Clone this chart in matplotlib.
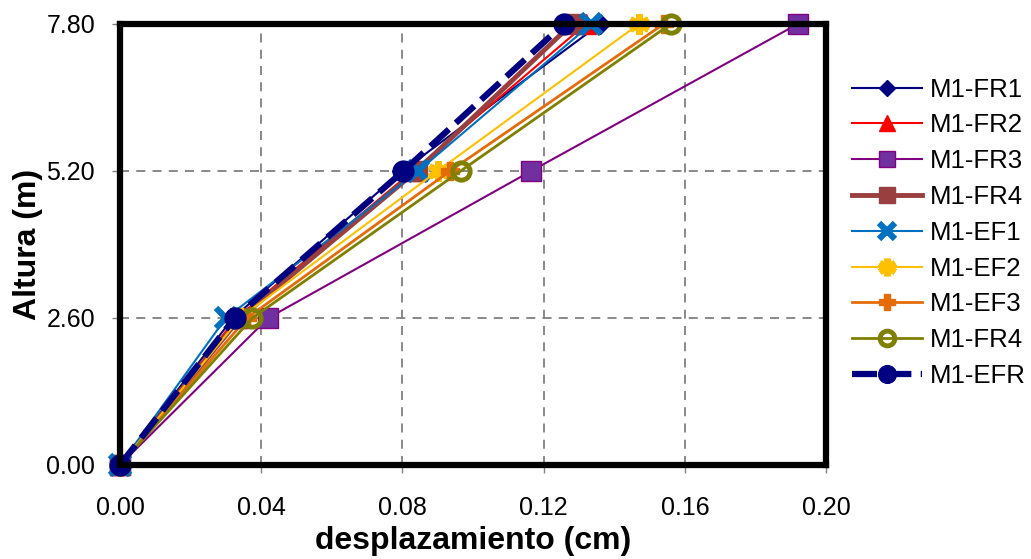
import matplotlib.pyplot as plt

plt.rcParams['font.family'] = ['Liberation Sans', 'DejaVu Sans']

# alturas de piso (m)
alturas = [0.0, 2.6, 5.2, 7.8]

# desplazamientos (cm) por modelo
fr1 = [0.0, 0.032, 0.080, 0.136]
fr2 = [0.0, 0.033, 0.083, 0.132]
fr3 = [0.0, 0.042, 0.1165, 0.192]
fr4 = [0.0, 0.034, 0.084, 0.128]
ef1 = [0.0, 0.030, 0.0845, 0.1335]
ef2 = [0.0, 0.034, 0.090, 0.147]
ef3 = [0.0, 0.036, 0.0935, 0.154]
fr4b = [0.0, 0.0375, 0.0965, 0.156]
efr = [0.0, 0.0325, 0.0803, 0.1257]

fig = plt.figure(figsize=(10.31, 5.59), dpi=100)
ax = fig.add_axes([0.1164, 0.1682, 0.6848, 0.7889])

kw = dict(clip_on=False)
ax.plot(fr1, alturas, color='#000080', lw=1.5, marker='D', ms=10, label='M1-FR1', **kw)
ax.plot(fr2, alturas, color='#ff0000', lw=1.5, marker='^', ms=14, label='M1-FR2', **kw)
ax.plot(fr3, alturas, color='#800080', lw=1.5, marker='s', ms=14, mfc='#7030a0', mec='#800080', label='M1-FR3', **kw)
ax.plot(fr4, alturas, color='#993f3f', lw=3.5, marker='s', ms=14, label='M1-FR4', **kw)
ax.plot(ef1, alturas, color='#0070c0', lw=1.5, marker='x', ms=14, mew=4.5, label='M1-EF1', **kw)
ax.plot(ef2, alturas, color='#ffc000', lw=1.5, marker=(6, 2, 0), ms=15, mew=4.5, label='M1-EF2', **kw)
ax.plot(ef3, alturas, color='#e36c09', lw=2, marker='P', ms=13, label='M1-EF3', **kw)
ax.plot(fr4b, alturas, color='#808000', lw=2, marker='o', ms=12.5, mfc='none', mew=3.5, label='M1-FR4', **kw)
ax.plot(efr, alturas, color='#000080', lw=4.5, ls=(0, (4, 1.5)), marker='o', ms=15, label='M1-EFR', **kw)

ax.set_xlim(0, 0.20)
ax.set_ylim(0, 7.8)
ax.set_xticks([0.0, 0.04, 0.08, 0.12, 0.16, 0.20])
ax.set_yticks(alturas)
ax.set_xticklabels(['0.00', '0.04', '0.08', '0.12', '0.16', '0.20'])
ax.set_yticklabels(['0.00', '2.60', '5.20', '7.80'])
ax.tick_params(labelsize=18, length=6, width=1, color='#808080', pad=12)
ax.tick_params(axis='x', pad=16)
ax.grid(True, color='#808080', ls=(0, (5, 4)), lw=1.3)
ax.set_axisbelow(True)
for s in ax.spines.values():
    s.set_linewidth(4.5)

ax.set_xlabel('desplazamiento (cm)', fontsize=23, fontweight='bold', labelpad=5)
ax.set_ylabel('Altura (m)', fontsize=23, fontweight='bold', labelpad=2)

ax.legend(loc='upper left', bbox_to_anchor=(1.0227, 0.9018), frameon=False, fontsize=18.5,
          handlelength=2.7, labelspacing=0.46, handletextpad=0.3, borderaxespad=0,
          markerscale=0.85)

plt.savefig('out.png', dpi=100)
